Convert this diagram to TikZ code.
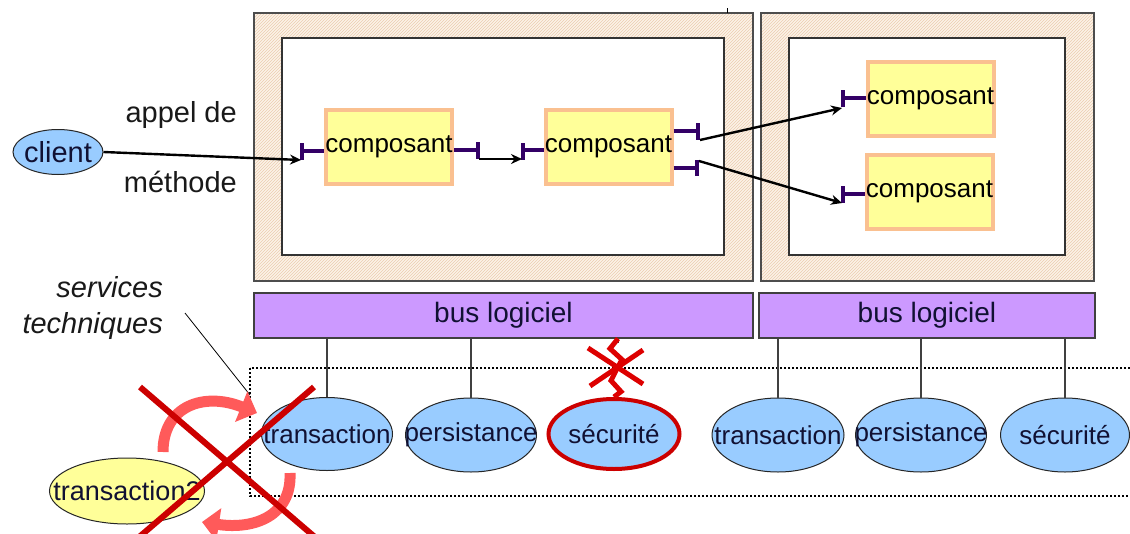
\documentclass[tikz,border=0pt]{standalone}
\usepackage{fontspec}
\setmainfont{Liberation Sans}
\usetikzlibrary{shapes.geometric,arrows.meta,patterns,calc}
\definecolor{hatchbg}{HTML}{FCF3E8}
\definecolor{hatchln}{HTML}{EBCDB0}
\definecolor{framegray}{HTML}{4D4D4D}
\definecolor{compfill}{HTML}{FFFF99}
\definecolor{compborder}{HTML}{FAC090}
\definecolor{portcol}{HTML}{330066}
\definecolor{busfill}{HTML}{CC99FF}
\definecolor{svcfill}{HTML}{99CCFF}
\definecolor{secred}{HTML}{CC0000}
\definecolor{cycred}{HTML}{FF5A5A}
\definecolor{xred}{HTML}{CC0000}
\definecolor{brkred}{HTML}{DD0000}
\definecolor{txt}{HTML}{111133}
\begin{document}
\begin{tikzpicture}[x=1pt,y=-1pt,
  frame/.style={draw=framegray, line width=1.5pt, preaction={fill=hatchbg}, pattern=north east lines, pattern color=hatchln},
  innerbox/.style={draw=black!80, line width=1.2pt, fill=white},
  comp/.style={draw=compborder, line width=4pt, fill=compfill, minimum width=126pt, minimum height=74pt, inner sep=0pt, text=black, font=\fontsize{26}{30}\selectfont},
  port/.style={draw=portcol, line width=3.5pt},
  call/.style={draw=black, line width=2.4pt, -{Stealth[length=11pt,width=10pt]}},
  bus/.style={draw=black!75, line width=1.2pt, fill=busfill, inner sep=0pt, text=txt, font=\fontsize{28}{32}\selectfont},
  svc/.style={ellipse, draw=black!85, line width=1pt, fill=svcfill, inner sep=0pt, text=txt, font=\fontsize{26}{30}\selectfont},
  link/.style={draw=black!75, line width=1.2pt},
  lbl/.style={inner sep=0pt, text=black!90, font=\fontsize{29}{32}\selectfont},
  dotbox/.style={draw=black, line width=2pt, dash pattern=on 2pt off 2pt},
  cyc/.style={draw=cycred, line width=11pt, -{Triangle[length=17pt,width=32pt]}},
  bigx/.style={draw=xred, line width=6pt},
  brk/.style={draw=brkred, line width=5pt, line join=miter}
]
\useasboundingbox (0,0) rectangle (1130,533);
\clip (0,0) rectangle (1130,533);
\fill[white] (0,0) rectangle (1130,533);

% containers
\draw[frame] (254,13) rectangle (753,281);
\draw[innerbox] (282,38) rectangle (724,255);
\draw[frame] (761,13) rectangle (1094,281);
\draw[innerbox] (789,38) rectangle (1065,255);
\draw[line width=1pt] (727,8) -- (727,13);

% components
\node[comp] (A) at (389,147) {\makebox[0pt]{composant}};
\node[comp] (B) at (608.5,147) {\makebox[0pt]{composant}};
\node[comp] (C) at (930.5,98.5) {\makebox[0pt]{composant}};
\node[comp] (D) at (929.5,192) {\makebox[0pt]{composant}};

% ports
\draw[port] (302,143) -- (302,160) (302,151) -- (A.west |- 0,151);
\draw[port] (A.east |- 0,150) -- (478,150) (478,142) -- (478,159);
\draw[port] (523,143) -- (523,160) (523,150) -- (B.west |- 0,150);
\draw[port] (B.east |- 0,131) -- (698,131) (698,123) -- (698,140);
\draw[port] (B.east |- 0,168) -- (697,168) (697,160) -- (697,176);
\draw[port] (843,90) -- (843,107) (843,98) -- (C.west |- 0,98);
\draw[port] (843,186) -- (843,203) (843,194) -- (D.west |- 0,194);

\coordinate (pAin) at (301,160);
\coordinate (pAout) at (479,159);
\coordinate (pBin) at (522,159);
\coordinate (pBo1) at (700,140);
\coordinate (pBo2) at (699,161);
\coordinate (pCin) at (842,108);
\coordinate (pDin) at (842,203);

% client
\node[svc, minimum width=90pt, minimum height=45pt, font=\fontsize{29}{32}\selectfont] (client) at (58,152) {\makebox[0pt]{client}};
\node[lbl, anchor=base east] (appel) at (237,122) {appel de};
\node[lbl, anchor=base east] (meth) at (237,192) {méthode};

% calls
\draw[call] (client.east) -- (pAin);
\draw[call] (pAout) -- (pBin);
\draw[call] (pBo1) -- (pCin);
\draw[call] (pBo2) -- (pDin);

% services
\node[lbl, anchor=base east, font=\fontsize{29}{32}\selectfont\itshape] (serv1) at (163,297) {services};
\node[lbl, anchor=base east, font=\fontsize{29}{32}\selectfont\itshape] (serv2) at (163,333) {techniques};

\node[bus, minimum width=499pt, minimum height=45pt] (bus1) at (503.5,315.5) {bus logiciel};
\node[bus, minimum width=336pt, minimum height=45pt] (bus2) at (927,315.5) {bus logiciel};

\draw[dotbox] (250,368) rectangle (1140,496);
\coordinate (leadA) at (185,313);
\coordinate (leadB) at (250,395);
\draw[line width=0.8pt] (leadA) -- (leadB);

\node[svc, minimum width=131pt, minimum height=73pt] (t1) at (327,434) {\makebox[0pt]{transaction}};
\node[svc, minimum width=131pt, minimum height=74pt] (p1) at (471,435) {\makebox[0pt]{persistance}};
\node[svc, draw=secred, line width=4pt, minimum width=131pt, minimum height=70pt] (s1) at (614,434) {\makebox[0pt]{sécurité}};
\node[svc, minimum width=132pt, minimum height=74pt] (t2) at (778,435) {\makebox[0pt]{transaction}};
\node[svc, minimum width=131pt, minimum height=74pt] (p2) at (921,435) {\makebox[0pt]{persistance}};
\node[svc, minimum width=129pt, minimum height=74pt] (s2) at (1065,435) {\makebox[0pt]{sécurité}};

\draw[link] (t1.north) -- (t1.north |- bus1.south);
\draw[link] (p1.north) -- (p1.north |- bus1.south);
\draw[link] (t2.north) -- (t2.north |- bus2.south);
\draw[link] (p2.north) -- (p2.north |- bus2.south);
\draw[link] (s2.north) -- (s2.north |- bus2.south);

% broken link to securite
\coordinate (zTop) at ($(s1.north |- bus1.south)+(4,0)$);
\draw[link] (zTop) -- ++(0,4);
\draw[brk] (zTop) -- ++(-8,10) -- ++(12,11) -- ++(-5,9) -- ++(-6,12) -- ++(10,11) -- (s1.north);
\draw[brk] (588,348) -- (643,384) (643,350) -- (590,386);

% transaction2
\node[svc, fill=compfill, minimum width=155pt, minimum height=66pt, font=\fontsize{27}{30}\selectfont] (tr2) at (127,491) {\makebox[0pt]{transaction2}};

% cycle arrows
\draw[cyc] (163,452) .. controls (163,405) and (205,392) .. (257,413);
\draw[cyc] (290,473) .. controls (292,515) and (255,530) .. (202,522);

% big cross
\draw[bigx] (140,387) -- (316,538) (314,387) -- (138,538);
\end{tikzpicture}
\end{document}
